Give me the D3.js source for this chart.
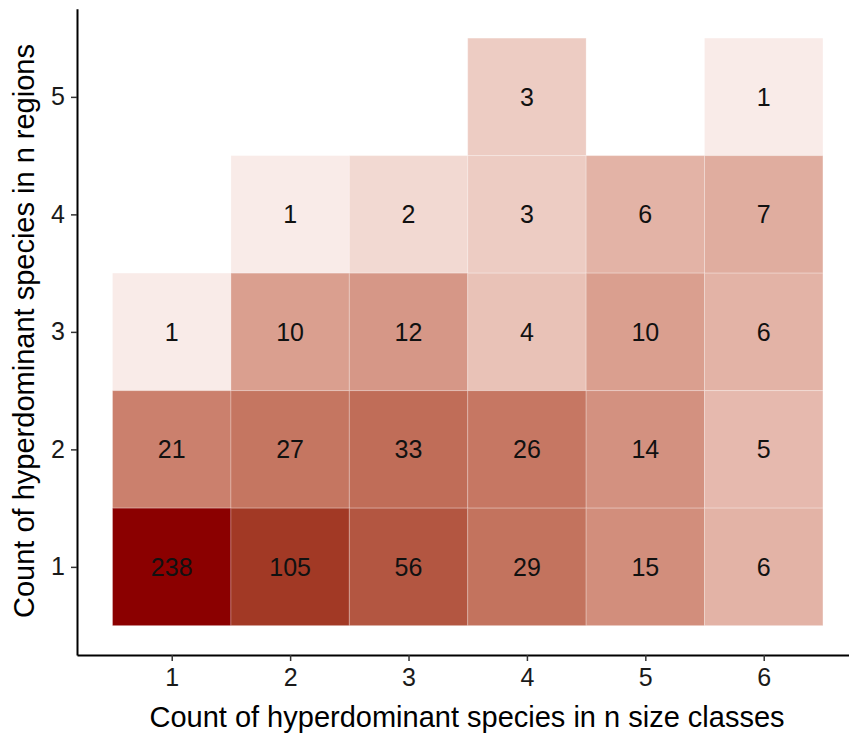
<!DOCTYPE html>
<html>
<head>
<meta charset="utf-8">
<script src="https://cdnjs.cloudflare.com/ajax/libs/d3/7.8.5/d3.min.js"></script>
<style>
  body { margin: 0; background: #fff; }
  text { font-family: "Liberation Sans", Arial, sans-serif; }
</style>
</head>
<body>
<div id="chart"></div>
<script>
// tile data: size classes (x), regions (y), species count
const sizeClass = [4, 6, 2, 3, 4, 5, 6, 1, 2, 3, 4, 5, 6, 1, 2, 3, 4, 5, 6, 1, 2, 3, 4, 5, 6];
const regions   = [5, 5, 4, 4, 4, 4, 4, 3, 3, 3, 3, 3, 3, 2, 2, 2, 2, 2, 2, 1, 1, 1, 1, 1, 1];
const counts    = [3, 1, 1, 2, 3, 6, 7, 1, 10, 12, 4, 10, 6, 21, 27, 33, 26, 14, 5, 238, 105, 56, 29, 15, 6];

const xTicks = [1, 2, 3, 4, 5, 6];
const yTicks = [1, 2, 3, 4, 5];

const w = 849, h = 740;
const cells = counts.map((c, i) => ({x: sizeClass[i], y: regions[i], n: c}));

const svg = d3.select("#chart").append("svg")
  .attr("width", w).attr("height", h);

// ggplot-like expansion (0.3 / 0.25 units) around the tiles
let x = d3.scaleLinear().domain([0.2, 6.8]).range([77, 77 + 6.6 * 118.4]);
let y = d3.scaleLinear().domain([0.25, 5.75]).range([655, 655 - 5.5 * 117.5]);

// fill on log(n + 1), interpolated in Lab
const color = d3.scaleLinear()
  .domain([Math.log1p(1), Math.log1p(238)])
  .range(["#f9ebe8", "#8b0000"])
  .interpolate(d3.interpolateLab);

svg.selectAll("rect.tile")
  .data(cells)
  .enter().append("rect")
  .attr("class", "tile")
  .attr("x", d => x(d.x - 0.5))
  .attr("y", d => y(d.y + 0.5))
  .attr("width", x(1) - x(0))
  .attr("height", y(0) - y(1))
  .attr("fill", d => color(Math.log1p(d.n)))
  .attr("stroke", "white")
  .attr("stroke-opacity", 0.25)
  .attr("stroke-width", 1);

svg.selectAll("text.lab")
  .data(cells)
  .enter().append("text")
  .attr("class", "lab")
  .attr("x", d => x(d.x))
  .attr("y", d => y(d.y))
  .attr("dy", "0.36em")
  .attr("text-anchor", "middle")
  .style("font-size", "25px")
  .attr("fill", "#111")
  .text(d => d.n);

// axes
const xAxis = svg.append("g")
  .attr("transform", `translate(0,${y(0.25)})`)
  .call(d3.axisBottom(x).tickValues(xTicks).tickFormat(d3.format("d")).tickSize(6).tickSizeOuter(0));
const yAxis = svg.append("g")
  .attr("transform", `translate(${x(0.2)},0)`)
  .call(d3.axisLeft(y).tickValues(yTicks).tickFormat(d3.format("d")).tickSize(6).tickSizeOuter(0));

[xAxis, yAxis].forEach(g => {
  g.select(".domain").attr("stroke", "#000").attr("stroke-width", 2);
  g.selectAll(".tick line").attr("stroke", "#333").attr("stroke-width", 1.5);
  g.selectAll(".tick text")
    .style("font-size", "25px")
    .attr("fill", "#1a1a1a")
    .style("font-family", "Liberation Sans, Arial, sans-serif");
});
xAxis.selectAll(".tick text").attr("y", 12).attr("dy", "0.75em");
yAxis.selectAll(".tick text").attr("x", -12);

svg.append("text")
  .attr("x", 467).attr("y", 727)
  .attr("text-anchor", "middle")
  .style("font-size", "29px")
  .text("Count of hyperdominant species in n size classes");

svg.append("text")
  .attr("transform", "translate(34,331) rotate(-90)")
  .attr("text-anchor", "middle")
  .style("font-size", "29px")
  .text("Count of hyperdominant species in n regions");
</script>
</body>
</html>
